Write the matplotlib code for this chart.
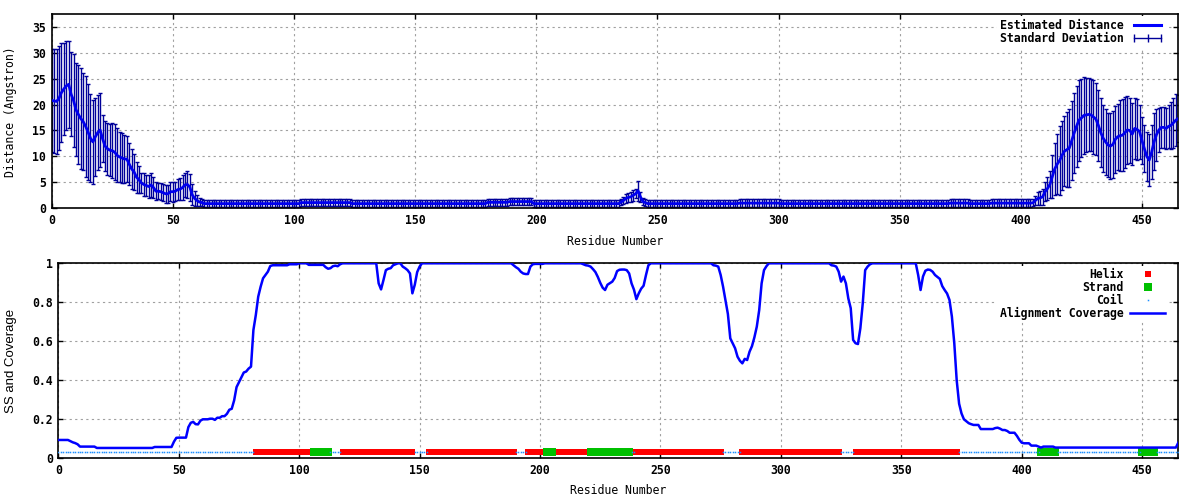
import numpy as np
import matplotlib.pyplot as plt
from matplotlib.lines import Line2D

plt.rcParams['font.family'] = ['DejaVu Sans Mono']
plt.rcParams['font.weight'] = 'bold'

# Estimated distance (Angstrom) for residues 0..465
dist = ([20.8, 20.7, 20.6, 21.2, 22.3, 23.0, 23.6, 23.9, 22.0, 20.8,
         19.0, 18.1, 17.3, 16.7, 15.8, 14.7, 13.5, 12.8, 13.8, 14.6,
         15.1, 13.4, 12.0, 11.5, 11.2, 11.1, 10.8, 10.2, 9.9, 9.7,
         9.5, 9.5, 8.5, 7.6, 7.0, 6.0, 5.5, 4.9, 4.6, 4.4,
         4.2, 4.5, 4.0, 3.3, 3.3, 3.2, 3.0, 2.8, 2.8, 3.2,
         3.2, 3.3, 3.6, 3.7, 4.0, 4.5, 4.6, 4.1, 2.6, 1.9,
         1.5, 1.2, 1.1]
        + [0.9] * 40 + [1.1] * 21 + [0.9] * 56 + [1.15] * 9 + [1.3] * 10 + [0.9] * 36
        + [1.2, 1.5, 1.9, 2.1, 2.2, 2.5, 2.8, 3.4, 2.2, 1.3, 1.1]
        + [0.9] * 38 + [1.0] * 17 + [0.9] * 70 + [1.0] * 8 + [0.9] * 9 + [1.0] * 17
        + [1.05, 1.5, 1.9, 2.0, 2.2, 3.2, 3.8, 4.6, 6.1, 7.6,
           8.5, 9.2, 10.2, 11.0, 11.3, 11.6, 13.0, 14.5, 15.8, 17.0,
           17.4, 17.9, 18.0, 18.1, 18.0, 17.6, 17.2, 16.0, 14.6, 13.5,
           12.8, 12.2, 12.0, 12.3, 13.3, 13.8, 14.0, 14.1, 14.6, 15.1,
           15.0, 14.3, 15.4, 15.2, 14.8, 13.1, 11.5, 10.0, 9.3, 10.8,
           12.8, 14.2, 15.1, 15.6, 15.6, 15.4, 15.8, 16.0, 16.5, 17.0,
           17.3])

# Standard deviation of the distance
dev = ([10.0, 10.1, 10.2, 10.0, 9.5, 8.9, 8.6, 8.4, 8.1, 9.0,
        9.0, 9.6, 9.7, 9.3, 9.7, 9.2, 8.5, 8.1, 7.5, 7.3,
        7.1, 4.5, 4.9, 5.0, 5.0, 5.3, 5.4, 5.2, 4.9, 4.8,
        4.6, 4.4, 4.0, 3.8, 3.4, 3.0, 2.6, 2.0, 2.2, 2.1,
        2.2, 2.3, 2.0, 1.7, 1.6, 1.6, 1.6, 1.7, 1.7, 1.8,
        1.9, 1.8, 2.0, 2.1, 2.4, 2.4, 2.6, 2.6, 2.0, 1.4,
        1.1, 0.7, 0.65]
       + [0.7] * 40 + [0.65] * 21 + [0.7] * 56 + [0.7] * 9 + [0.65] * 10 + [0.7] * 36
       + [0.6, 0.7, 0.8, 0.9, 0.9, 1.0, 0.9, 1.9, 1.0, 0.6, 0.6]
       + [0.7] * 38 + [0.7] * 17 + [0.7] * 70 + [0.7] * 8 + [0.7] * 9 + [0.7] * 17
       + [0.7, 0.9, 1.2, 1.4, 1.5, 1.8, 2.2, 2.6, 4.2, 5.0,
          5.8, 6.6, 6.7, 6.7, 7.2, 7.5, 7.6, 7.7, 7.8, 7.8,
          7.6, 7.4, 7.1, 7.0, 7.0, 7.1, 7.0, 6.9, 6.7, 6.5,
          6.3, 6.2, 6.3, 6.4, 6.5, 6.4, 6.8, 7.0, 6.8, 6.5,
          6.2, 6.0, 5.9, 5.8, 5.2, 4.5, 4.5, 4.8, 5.0, 5.2,
          5.5, 5.0, 4.2, 3.9, 3.9, 3.9, 4.2, 4.5, 4.8, 5.0,
          4.5])

# Alignment coverage for residues 0..465
coverage = ([0.094] * 5 + [0.088, 0.082, 0.078, 0.072] + [0.06] * 7 + [0.053] * 24
            + [0.058] * 8 + [0.085, 0.105] + [0.106] * 4
            + [0.16, 0.182, 0.187, 0.175, 0.174, 0.193, 0.2, 0.2, 0.2, 0.203,
               0.203, 0.197, 0.208, 0.208, 0.216, 0.216, 0.228, 0.249, 0.254, 0.297,
               0.365, 0.39, 0.416, 0.44, 0.445, 0.46, 0.47, 0.658, 0.735, 0.829,
               0.88, 0.923, 0.94, 0.957, 0.986]
            + [0.99] * 7 + [0.995] * 4 + [1.0] * 4 + [0.992] * 7
            + [0.98, 0.972, 0.975, 0.985, 0.988, 0.985, 0.995]
            + [1.0] * 15
            + [0.897, 0.866, 0.914, 0.965, 0.972, 0.975, 0.99, 0.995]
            + [1.0] * 2
            + [0.983, 0.975, 0.965, 0.948, 0.846, 0.89, 0.955, 0.983]
            + [1.0] * 38
            + [0.99, 0.98, 0.972, 0.957, 0.948, 0.945, 0.945, 0.983, 0.995]
            + [0.997] * 4 + [1.0] * 16
            + [0.995, 0.99, 0.988, 0.983, 0.97, 0.955, 0.93, 0.9, 0.875, 0.863,
               0.89, 0.898, 0.906, 0.925, 0.96, 0.967, 0.968, 0.968, 0.965, 0.948,
               0.897, 0.865, 0.816, 0.846, 0.87, 0.885, 0.94, 0.99, 1.0]
            + [1.0] * 25
            + [0.99, 0.988, 0.983, 0.94, 0.88, 0.81, 0.74, 0.615, 0.59, 0.564,
               0.521, 0.5, 0.487, 0.51, 0.504, 0.547, 0.575, 0.62, 0.675, 0.76,
               0.897, 0.965, 0.985, 1.0]
            + [1.0] * 25
            + [0.99, 0.988, 0.983, 0.957, 0.906, 0.932, 0.897, 0.82, 0.77, 0.607,
               0.59, 0.586, 0.667, 0.795, 0.965, 0.983, 0.995]
            + [1.0] * 19
            + [0.94, 0.863, 0.932, 0.962, 0.968, 0.966, 0.957, 0.94, 0.93, 0.92,
               0.883, 0.863, 0.845, 0.812, 0.727, 0.59, 0.40, 0.28, 0.23, 0.2,
               0.19, 0.18, 0.175, 0.171, 0.171, 0.171]
            + [0.15] * 6
            + [0.155, 0.157, 0.152, 0.145, 0.145, 0.14, 0.131, 0.131, 0.131, 0.115,
               0.095, 0.08, 0.077, 0.077, 0.077, 0.065, 0.065, 0.065, 0.06, 0.055]
            + [0.06] * 5 + [0.055] * 51 + [0.08])

# Secondary structure segments (residue ranges, inclusive)
helix_start = [82, 118, 154, 195, 206, 240, 284, 331]
helix_end = [105, 147, 189, 202, 220, 275, 324, 373]
strand_start = [106, 203, 221, 408, 450]
strand_end = [112, 205, 237, 414, 455]
ss_level = 0.03

x = np.arange(len(dist))
xr = np.arange(len(coverage))

helix_x = np.concatenate([np.arange(s, e + 1) for s, e in zip(helix_start, helix_end)])
strand_x = np.concatenate([np.arange(s, e + 1) for s, e in zip(strand_start, strand_end)])
coil_x = np.setdiff1d(xr, np.concatenate([helix_x, strand_x]))

fig = plt.figure(figsize=(12, 5), dpi=100)
ax1 = fig.add_axes([0.0431, 0.5834, 0.9388, 0.388])
ax2 = fig.add_axes([0.0486, 0.0834, 0.9333, 0.39])

fs = 8.3
grid_kw = dict(color='#a0a0a0', linestyle=(0, (2, 3)), linewidth=0.8)

# top panel
ax1.errorbar(x, dist, yerr=dev, fmt='none', ecolor='#000099', elinewidth=1.0,
             capsize=1.6, capthick=1.0, zorder=2)
ax1.plot(x, dist, color='#0000ee', lw=2.0, zorder=3)
ax1.set_xlim(0, 465)
ax1.set_ylim(0, 37.4)
ax1.set_yticks(range(0, 36, 5))
ax1.set_xticks(range(0, 451, 50))
ax1.set_xlabel('Residue Number', fontsize=fs, va='center')
ax1.set_ylabel('Distance (Angstron)', fontsize=fs, va='center')
ax1.xaxis.set_label_coords(0.5, -0.1686)
ax1.yaxis.set_label_coords(-0.037, 0.5)

h_line = Line2D([], [], color='#0000ff', lw=2.2)
h_err = Line2D([], [], color='#000099', lw=1.0, marker='|', markersize=6, markeredgewidth=1.0)
ax1.legend([h_line, h_err], ['Estimated Distance', 'Standard Deviation'],
           loc='upper right', bbox_to_anchor=(0.9902, 0.989), borderaxespad=0,
           markerfirst=False, numpoints=3, handlelength=3.0, handletextpad=0.6,
           labelspacing=0.05, borderpad=0.2, frameon=True, facecolor='white',
           edgecolor='none', framealpha=1, fancybox=False,
           prop={'family': 'DejaVu Sans Mono', 'weight': 'bold', 'size': fs})

# bottom panel
ax2.plot(helix_x, [ss_level] * len(helix_x), ls='none', marker='s', ms=4.8,
         mew=0, color='#ff0000', label='Helix', zorder=3)
ax2.plot(strand_x, [ss_level] * len(strand_x), ls='none', marker='s', ms=5.2,
         mew=0, color='#00c000', label='Strand', zorder=3)
ax2.plot(coil_x, [ss_level] * len(coil_x), ls='none', marker='s', ms=1.1,
         mew=0, color='#1e90ff', label='Coil', zorder=3)
ax2.plot(xr, coverage, color='#0000ff', lw=1.8, label='Alignment Coverage', zorder=4)
ax2.set_xlim(0, 465)
ax2.set_ylim(0, 1)
ax2.set_yticks([0, 0.2, 0.4, 0.6, 0.8, 1.0])
ax2.set_yticklabels(['0', '0.2', '0.4', '0.6', '0.8', '1'])
ax2.set_xticks(range(0, 451, 50))
ax2.set_xlabel('Residue Number', fontsize=fs, va='center')
ax2.set_ylabel('SS and Coverage', fontsize=9.5, fontfamily='Liberation Sans',
               fontweight='normal', va='center')
ax2.xaxis.set_label_coords(0.5, -0.1626)
ax2.yaxis.set_label_coords(-0.0422, 0.5)
ax2.legend(loc='upper right', bbox_to_anchor=(0.9902, 0.9877), borderaxespad=0,
           markerfirst=False, numpoints=1, handlelength=3.0, handletextpad=0.6,
           labelspacing=0.0, borderpad=0.2, frameon=True, facecolor='white',
           edgecolor='none', framealpha=1, fancybox=False,
           prop={'family': 'DejaVu Sans Mono', 'weight': 'bold', 'size': fs})

for ax in (ax1, ax2):
    ax.grid(True, **grid_kw)
    ax.set_axisbelow(True)
    ax.tick_params(direction='in', length=3.6, width=1.0, top=True, right=True,
                   labelsize=fs, pad=4)
    for sp in ax.spines.values():
        sp.set_linewidth(1.2)

fig.savefig('out.png', dpi=100)
